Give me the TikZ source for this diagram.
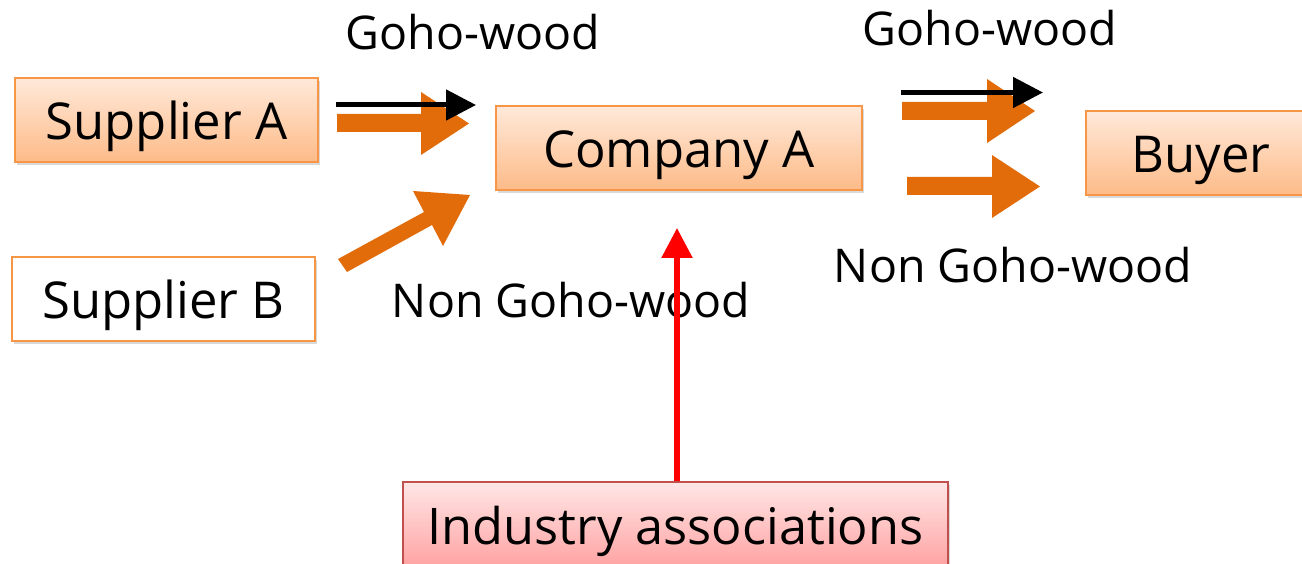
\documentclass[tikz,border=0pt]{standalone}
\usepackage{fontspec}
\setmainfont{Open Sans}
\usetikzlibrary{shadows,arrows.meta}
\definecolor{boxorange}{HTML}{F79646}
\definecolor{boxtop}{HTML}{FFE9DA}
\definecolor{boxbot}{HTML}{FDBB88}
\definecolor{woodorange}{HTML}{E36C0A}
\definecolor{indborder}{HTML}{C0504D}
\definecolor{indtop}{HTML}{FFE6E6}
\definecolor{indbot}{HTML}{FFA3A3}
\tikzset{
  actor/.style={draw=boxorange, line width=1.5pt, inner sep=0pt, minimum height=84pt,
    text height=40pt, text depth=0pt, font=\fontsize{50.8}{60}\selectfont,
    drop shadow={shadow xshift=2pt, shadow yshift=-3pt, opacity=0.3}},
  shaded/.style={top color=boxtop, bottom color=boxbot},
  assoc/.style={draw=indborder, line width=1.5pt, inner sep=0pt, minimum height=84pt,
    text height=40pt, text depth=0pt, font=\fontsize{50.5}{60}\selectfont,
    top color=indtop, bottom color=indbot,
    drop shadow={shadow xshift=2pt, shadow yshift=-3pt, opacity=0.3}},
  flowlabel/.style={anchor=base, inner sep=0pt, font=\fontsize{46.5}{55}\selectfont},
  woodarrow/.style={fill=woodorange, draw=none},
  gohoarrow/.style={draw=black, line width=5pt, -{Triangle[length=30pt,width=30pt]}},
  supportarrow/.style={draw=red, line width=5.5pt, -{Triangle[length=30pt,width=30pt]}}
}
\begin{document}
\begin{tikzpicture}[x=1pt,y=-1pt]
\useasboundingbox (0,0) rectangle (1302,564);
% boxes
\node[actor, shaded, minimum width=303pt] (supA) at (166.5,120) {Supplier A};
\node[actor, fill=white, minimum width=303pt] (supB) at (163.5,299) {Supplier B};
\node[actor, shaded, minimum width=366pt] (comp) at (679,148) {Company A};
\node[actor, shaded, minimum width=230pt] (buyer) at (1201,153) {Buyer};
\node[assoc, minimum width=545pt] (ind) at (675.5,524) {Industry associations};
% labels
\node[flowlabel] (l1) at (473,50) {Goho-wood};
\node[flowlabel] (l2) at (990,46) {Goho-wood};
\node[flowlabel] (l3) at (571,317) {Non Goho-wood};
\node[flowlabel] (l4) at (1013,283) {Non Goho-wood};
% orange block arrows
\fill[woodarrow] (337,114) -- (421,114) -- (421,92) -- (469,123.5) -- (421,155) -- (421,132) -- (337,132) -- cycle;
\fill[woodarrow] (338,259) -- (424,212) -- (413,191) -- (470,195) -- (443,246) -- (432,225) -- (347,272) -- cycle;
\fill[woodarrow] (902,102) -- (987,102) -- (987,79) -- (1035,111) -- (987,143) -- (987,120) -- (902,120) -- cycle;
\fill[woodarrow] (907,177) -- (992,177) -- (992,155) -- (1040,186.5) -- (992,218) -- (992,195) -- (907,195) -- cycle;
% black arrows
\coordinate (g1s) at (336,105);
\coordinate (g1e) at (476,105);
\coordinate (g2s) at (901,92.5);
\coordinate (g2e) at (1043,92.5);
\draw[gohoarrow] (g1s) -- (g1e);
\draw[gohoarrow] (g2s) -- (g2e);
% red arrow
\coordinate (redtip) at (677,228);
\draw[supportarrow] (ind.north -| redtip) -- (redtip);
\end{tikzpicture}
\end{document}
